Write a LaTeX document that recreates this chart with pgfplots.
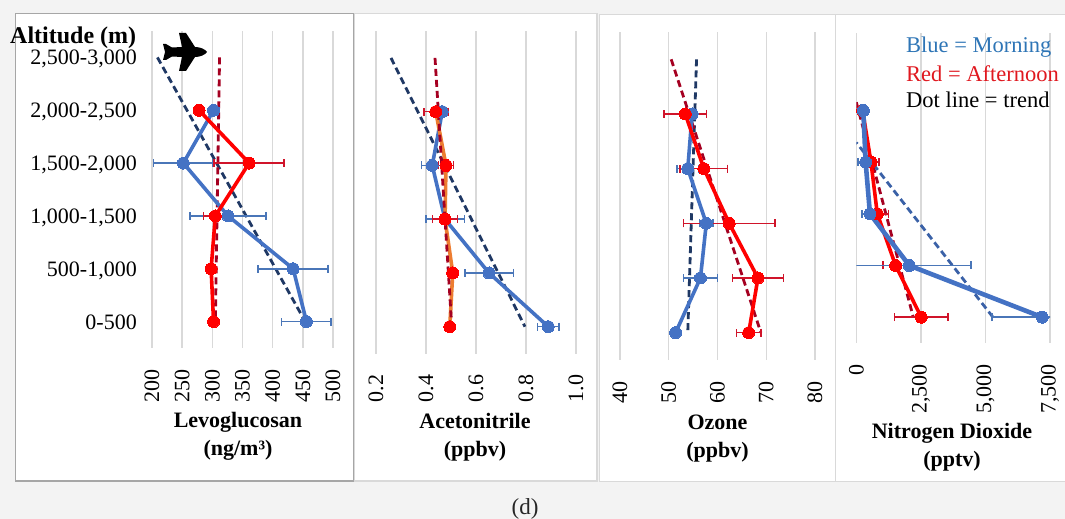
\documentclass[border=0pt]{standalone}
\usepackage{pgfplots}
\pgfplotsset{compat=1.18}
\usepackage{fontspec}
\setmainfont{Liberation Serif}
\definecolor{mblue}{HTML}{4472C4}
\definecolor{mblueerr}{HTML}{4A76B8}
\definecolor{mred}{HTML}{FF0000}
\definecolor{rederr}{HTML}{D0142A}
\definecolor{tblue}{HTML}{1F3864}
\definecolor{tred}{HTML}{A50021}
\definecolor{gridc}{HTML}{D9D9D9}
\definecolor{bgc}{HTML}{F3F3F3}
\definecolor{legblue}{HTML}{2E75B6}
\definecolor{legred}{HTML}{E0181F}
\definecolor{orline}{HTML}{ED7D31}
\pgfplotsset{
  panel/.style={
    scale only axis, anchor=south west,
    ymin=-0.5, ymax=5.5,
    axis line style={draw=none},
    tick style={draw=none},
    xmajorgrids, grid style={gridc,line width=1.4pt},
    ytick=\empty,
    /pgf/number format/assume math mode=true,
    xticklabel style={font=\fontsize{22}{24}\selectfont,yshift=-21pt,rotate=90,anchor=east,inner sep=0pt},
    xlabel style={font=\fontsize{22}{28}\selectfont\bfseries,align=center,anchor=center},
  },
  bline/.style={color=mblue,line width=3.6pt,mark=*,mark size=6pt,mark options={fill=mblue,draw=mblue,line width=0pt},
    error bars/.cd,x dir=both,x explicit,
    error bar style={color=mblueerr,line width=1.5pt},
    error mark options={color=mblueerr,line width=1.5pt,mark size=4pt,rotate=90},
    /pgfplots/.cd},
  rline/.style={color=mred,line width=3.6pt,mark=*,mark size=6pt,mark options={fill=mred,draw=mred,line width=0pt},
    error bars/.cd,x dir=both,x explicit,
    error bar style={color=rederr,line width=1.5pt},
    error mark options={color=rederr,line width=1.5pt,mark size=4pt,rotate=90},
    /pgfplots/.cd},
  ttrend/.style={color=#1,line width=2.8pt,dash pattern=on 7pt off 4pt,no marks},
}
\begin{document}
\begin{tikzpicture}
\useasboundingbox (0pt,0pt) rectangle (1065pt,519pt);
\fill[bgc] (0pt,0pt) rectangle (1065pt,519pt);
% panels
\filldraw[fill=white,draw=gridc,line width=1.5pt] (354pt,38pt) rectangle (597pt,505.5pt);
\filldraw[fill=white,draw=gridc,line width=1.5pt] (599.5pt,37.5pt) rectangle (835.7pt,504.5pt);
\filldraw[fill=white,draw=gridc,line width=1.5pt] (835.7pt,37.5pt) rectangle (1067pt,504.5pt);
\filldraw[fill=white,draw=black!35,line width=1.2pt] (15.3pt,38pt) rectangle (353.5pt,505.5pt);

% Levoglucosan
\begin{axis}[panel, at={(152pt,171pt)}, width=181pt, height=317pt,
  xmin=200, xmax=500, xtick={200,250,...,500},
  ytick={0,1,2,3,4,5},
  yticklabels={{0-500},{500-1,000},{1,000-1,500},{1,500-2,000},{2,000-2,500},{2,500-3,000}},
  yticklabel style={font=\fontsize{22}{24}\selectfont,anchor=east,inner sep=0pt,text height=15pt,text depth=5pt,xshift=-15pt,yshift=-2.5pt},
  xlabel={Levoglucosan\\(ng/m³)},
  xlabel style={at={(axis description cs:0.475,-0.280)}}]
\addplot[ttrend=tblue] coordinates {(209,5) (454,0)};
\addplot[ttrend=tred] coordinates {(312,5) (305,0)};
\addplot[bline] coordinates {(456,0)+-(41,0) (434,1)+-(58,0) (326,2)+-(63,0) (252,3)+-(49.5,0) (302,4)+-(3,0)};
\addplot[rline] coordinates {(302,0)+-(5,0) (298,1)+-(5,0) (305,2)+-(20,0) (361,3)+-(58,0) (278,4)+-(3,0)};
\end{axis}

% Acetonitrile
\begin{axis}[panel, at={(376pt,165.4pt)}, width=200pt, height=322.6pt,
  xmin=0.2, xmax=1.0, xtick={0.2,0.4,0.6,0.8,1.0},
  /pgf/number format/.cd,fixed,fixed zerofill,precision=1,
  /pgfplots/.cd,
  xlabel={Acetonitrile\\(ppbv)},
  xlabel style={at={(axis description cs:0.495,-0.258)}}]
\addplot[ttrend=tblue] coordinates {(0.26,5) (0.796,0)};
\addplot[bline] coordinates {(0.889,0)+-(0.043,0) (0.652,1)+-(0.097,0) (0.476,2)+-(0.077,0) (0.425,3)+-(0.044,0) (0.465,4)+-(0.01,0)};
\addplot[orline,line width=3.6pt,mark=*,mark size=6pt,mark options={fill=mred,draw=mred,line width=0pt},
    error bars/.cd,x dir=both,x explicit,
    error bar style={color=rederr,line width=1.5pt},
    error mark options={color=rederr,line width=1.5pt,mark size=4pt,rotate=90}]
  coordinates {(0.495,0)+-(0.005,0) (0.507,1)+-(0.008,0) (0.476,2)+-(0.05,0) (0.48,3)+-(0.03,0) (0.439,4)+-(0.048,0)};
\addplot[ttrend=tred] coordinates {(0.436,5) (0.503,0)};
\end{axis}

% Ozone
\begin{axis}[panel, at={(620pt,159pt)}, width=195pt, height=328pt,
  xmin=40, xmax=80, xtick={40,50,...,80},
  xlabel={Ozone\\(ppbv)},
  xlabel style={at={(axis description cs:0.5,-0.241)}}]
\addplot[ttrend=tblue] coordinates {(55.7,5) (53.9,0)};
\addplot[ttrend=tred] coordinates {(50.5,5) (68.9,0)};
\addplot[bline] coordinates {(51.4,0)+-(0.8,0) (56.5,1)+-(3.45,0) (57.7,2)+-(1.4,0) (53.9,3)+-(2.2,0) (54.8,4)+-(0.8,0)};
\addplot[rline] coordinates {(66.4,0)+-(2.5,0) (68.3,1)+-(5.2,0) (62.4,2)+-(9.4,0) (57.2,3)+-(4.85,0) (53.4,4)+-(4.35,0)};
\end{axis}

% Nitrogen Dioxide
\begin{axis}[panel, at={(856.3pt,176pt)}, width=193.7pt, height=310pt,
  xmin=0, xmax=7500, xtick={0,2500,5000,7500},
  /pgf/number format/.cd,1000 sep={,},
  /pgfplots/.cd,
  xlabel={Nitrogen Dioxide\\(pptv)},
  xlabel style={at={(axis description cs:0.494,-0.335)}}]
\addplot[ttrend=tred] coordinates {(0,4.16) (2206,0)};
\addplot[ttrend=mblue!85!black] coordinates {(5290,0) (0,3.38)};
\addplot[rline] coordinates {(2515,0)+-(1040,0) (1522,1)+-(480,0) (813,2)+-(440,0) (568,3)+-(310,0) (245,4)+-(60,0)};
\addplot[bline,line width=4.6pt] coordinates {(7198,0)+-(1935,0) (2051,1)+-(2387,0) (529,2)+-(300,0) (361,3)+-(300,0) (271,4)+-(60,0)};
\end{axis}

% annotations
\node[anchor=west,inner sep=0pt,font=\fontsize{24}{28}\selectfont\bfseries] at (10pt,481pt) {Altitude (m)};
\begin{scope}[x=1pt,y=-1pt,yshift=519pt]
\fill[black] (207,52) .. controls (205,49) and (200,47) .. (195,47) -- (186,33) -- (179,33) -- (182,47) -- (172,47.5) -- (166,44) -- (163,44) -- (165,52) -- (163,60) -- (166,60) -- (172,56.5) -- (182,57) -- (179,71) -- (186,71) -- (195,57) .. controls (200,57) and (205,55) .. (207,52) -- cycle;
\end{scope}
\node[anchor=west,inner sep=0pt,text=legblue,font=\fontsize{22.5}{26}\selectfont] at (906pt,471.5pt) {Blue = Morning};
\node[anchor=west,inner sep=0pt,text=legred,font=\fontsize{22.5}{26}\selectfont] at (906pt,445pt) {Red = Afternoon};
\node[anchor=west,inner sep=0pt,text=black,font=\fontsize{22.5}{26}\selectfont] at (906pt,419pt) {Dot line = trend};
\node[inner sep=0pt,font=\fontsize{23}{26}\selectfont,text=black!85] at (525pt,10pt) {(d)};
\end{tikzpicture}
\end{document}
